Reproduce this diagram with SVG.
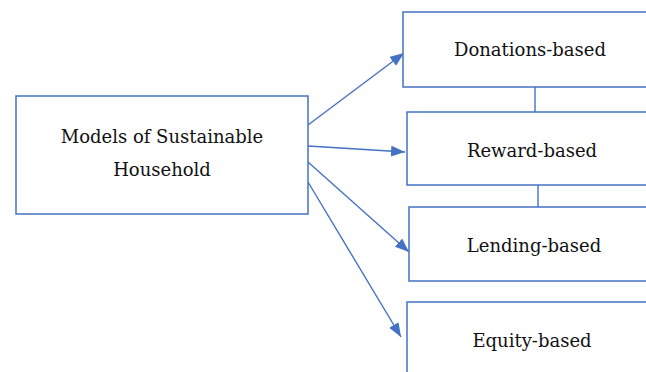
<svg xmlns="http://www.w3.org/2000/svg" width="646" height="372" viewBox="0 0 646 372">
<style>
.box{fill:#fff;stroke:#4472C4;stroke-width:1.5}
.lbl{font-family:"DejaVu Serif","Liberation Serif",serif;font-size:18px;fill:#111;text-anchor:middle}
.con{stroke:#4472C4;stroke-width:1.4;fill:none}
.arr{marker-end:url(#ah)}
</style>
<defs>
<marker id="ah" markerUnits="userSpaceOnUse" markerWidth="15" markerHeight="12" refX="14" refY="5.5" orient="auto">
<path d="M0,0 L14,5.5 L0,11 Z" fill="#4472C4"/>
</marker>
</defs>
<rect width="646" height="372" fill="#fff"/>
<g id="connectors">
<line class="con" x1="535" y1="87" x2="535" y2="112"/>
<line class="con" x1="538" y1="185" x2="538" y2="207"/>
<line class="con arr" x1="308" y1="125" x2="404" y2="53"/>
<line class="con arr" x1="308" y1="146" x2="405" y2="152"/>
<line class="con arr" x1="308" y1="162" x2="409" y2="252"/>
<line class="con arr" x1="308" y1="182" x2="401" y2="337"/>
</g>
<g id="models">
<rect class="box" x="16" y="96" width="292" height="118"/>
<text class="lbl" x="162" y="143">Models of Sustainable</text>
<text class="lbl" x="162" y="176">Household</text>
</g>
<g id="donations">
<rect class="box" x="403" y="12" width="260" height="75"/>
<text class="lbl" x="530" y="56">Donations-based</text>
</g>
<g id="reward">
<rect class="box" x="407" y="112" width="260" height="73"/>
<text class="lbl" x="532" y="157">Reward-based</text>
</g>
<g id="lending">
<rect class="box" x="409" y="207" width="260" height="74"/>
<text class="lbl" x="534" y="252">Lending-based</text>
</g>
<g id="equity">
<rect class="box" x="407" y="302" width="260" height="90"/>
<text class="lbl" x="532" y="347">Equity-based</text>
</g>
</svg>
